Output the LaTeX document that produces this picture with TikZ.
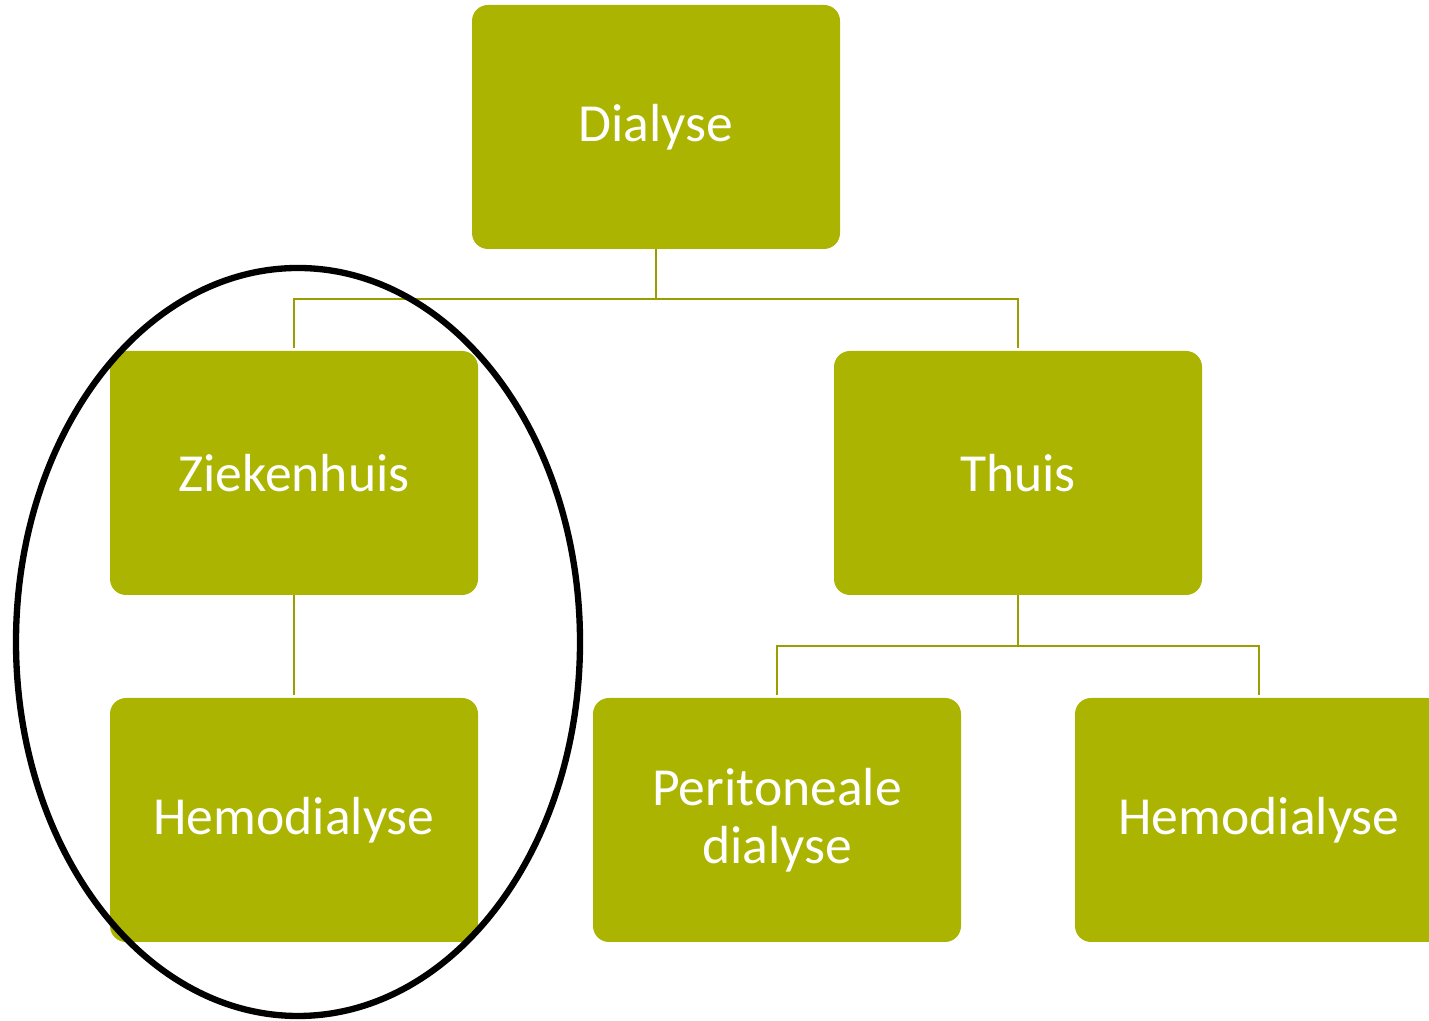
\documentclass[tikz,border=0pt]{standalone}
\usepackage{fontspec}
\setmainfont{Carlito}
\usepackage{xcolor}
\usepackage{tikz}
\usetikzlibrary{positioning, calc}
\definecolor{boxfill}{HTML}{ABB400}
\definecolor{linkdraw}{HTML}{9A9E00}
\tikzset{
  blk/.style={rectangle, rounded corners=0.32cm, fill=boxfill, text=white, align=center, font=\fontsize{30.5}{33}\selectfont, minimum width=7.36cm, minimum height=4.88cm, inner sep=0pt},
  link/.style={draw=linkdraw, line width=1.1pt},
  ring/.style={draw=black, line width=3.6pt},
}

\begin{document}
\begin{tikzpicture}
  \useasboundingbox (0,0) rectangle (28.58,20.42);
  \node[blk] (dia) at (13.12,17.88) {Dialyse};
  \node[blk] (zkh) at (5.88,10.96) {Ziekenhuis};
  \node[blk] (thuis) at (20.36,10.96) {Thuis};
  \node[blk] (hemoL) at (5.88,4.02) {Hemodialyse};
  \node[blk] (perit) at (15.54,4.02) {Peritoneale\\dialyse};
  \node[blk] (hemoR) at (25.18,4.02) {Hemodialyse};
  \draw[link] (dia.south) -- ++(0,-1) -| ($(zkh.north)+(0,0.06)$);
  \draw[link] (dia.south) -- ++(0,-1) -| ($(thuis.north)+(0,0.06)$);
  \draw[link] (zkh.south) -- ($(hemoL.north)+(0,0.06)$);
  \draw[link] (thuis.south) -- ++(0,-1.02) -| ($(perit.north)+(0,0.06)$);
  \draw[link] (thuis.south) -- ++(0,-1.02) -| ($(hemoR.north)+(0,0.06)$);
  \draw[ring] (5.96,7.58) ellipse (5.64cm and 7.48cm);
\end{tikzpicture}
\end{document}
